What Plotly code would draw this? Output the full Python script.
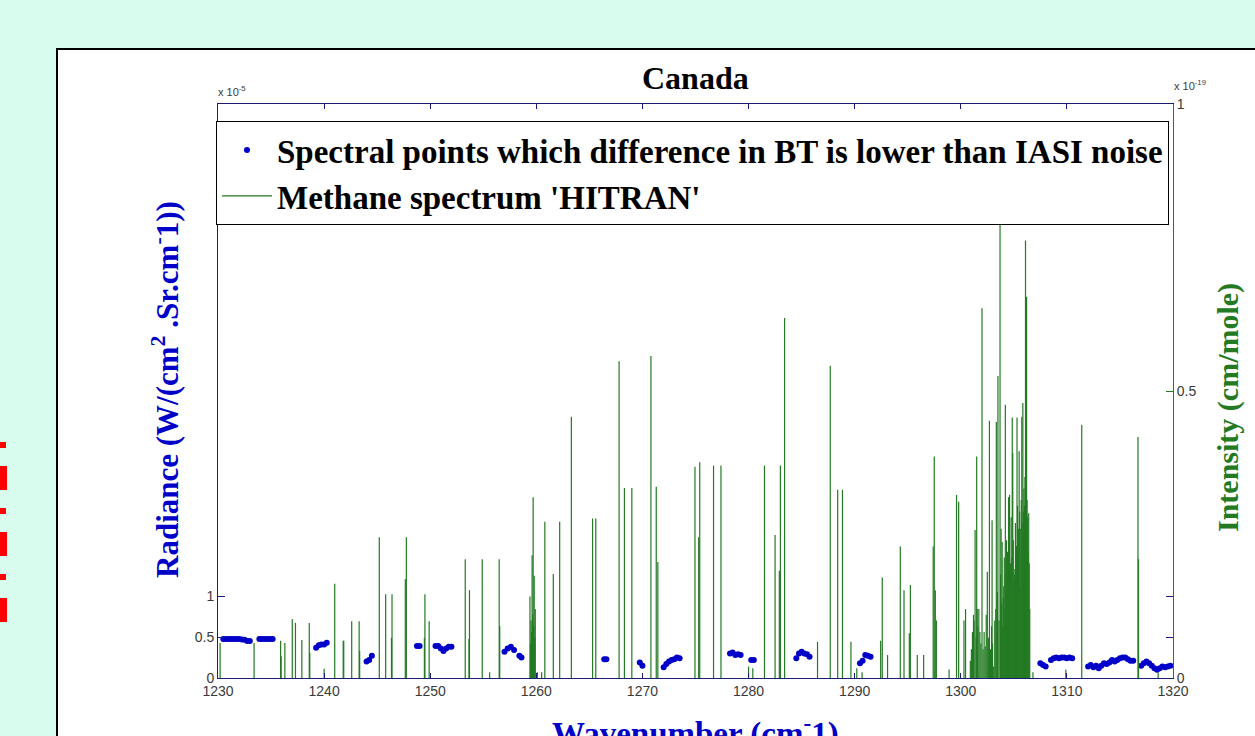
import plotly.graph_objects as go

# radiance points (units of 1e-5), wavenumber in cm-1
iasi_wn = [1230.5, 1230.75, 1231.0, 1231.25, 1231.5, 1231.75, 1232.0, 1232.25, 1232.5, 1232.75, 1233.0,
           1233.9, 1234.15, 1234.4, 1234.65, 1234.9, 1235.15,
           1239.25, 1239.5, 1239.75, 1240.0, 1240.25,
           1244.0, 1244.25, 1244.5,
           1248.75, 1249.0,
           1250.5, 1250.75, 1251.0, 1251.25, 1251.5, 1251.75, 1252.0,
           1257.0, 1257.3, 1257.6, 1257.9, 1258.4, 1258.6,
           1266.4, 1266.6,
           1269.75, 1270.0,
           1272.0, 1272.25, 1272.5, 1272.75, 1273.0, 1273.25, 1273.5,
           1278.25, 1278.5, 1278.75, 1279.0, 1279.25,
           1280.25, 1280.5,
           1284.5, 1284.75, 1285.0, 1285.25, 1285.5, 1285.75,
           1290.5, 1290.75, 1291.0, 1291.25, 1291.5,
           1307.5, 1307.75, 1308.0,
           1308.5, 1308.75, 1309.0, 1309.25, 1309.5, 1309.75, 1310.0, 1310.25, 1310.5,
           1312.0, 1312.25, 1312.5, 1312.75, 1313.0, 1313.25, 1313.5, 1313.75, 1314.0, 1314.25,
           1314.5, 1314.75, 1315.0, 1315.25, 1315.5, 1315.75, 1316.0, 1316.25,
           1317.0, 1317.25, 1317.5, 1317.75, 1318.0, 1318.25, 1318.5, 1318.75, 1319.0, 1319.25,
           1319.5, 1319.75]
iasi_rad = [0.475, 0.475, 0.475, 0.475, 0.475, 0.475, 0.475, 0.47, 0.465, 0.45, 0.45,
            0.475, 0.475, 0.475, 0.475, 0.475, 0.475,
            0.37, 0.40, 0.41, 0.41, 0.43,
            0.20, 0.22, 0.27,
            0.39, 0.39,
            0.39, 0.39, 0.36, 0.33, 0.36, 0.38, 0.38,
            0.32, 0.36, 0.38, 0.34, 0.27, 0.25,
            0.23, 0.23,
            0.19, 0.15,
            0.13, 0.17, 0.20, 0.22, 0.23, 0.25, 0.24,
            0.30, 0.31, 0.28, 0.29, 0.28,
            0.22, 0.22,
            0.24, 0.30, 0.32, 0.30, 0.29, 0.26,
            0.18, 0.21, 0.28, 0.27, 0.26,
            0.18, 0.16, 0.14,
            0.22, 0.24, 0.25, 0.24, 0.25, 0.25, 0.24, 0.25, 0.24,
            0.14, 0.16, 0.13, 0.15, 0.12, 0.15, 0.18, 0.17, 0.19, 0.22,
            0.20, 0.22, 0.24, 0.25, 0.25, 0.23, 0.21, 0.21,
            0.15, 0.18, 0.20, 0.18, 0.15, 0.12, 0.10, 0.12, 0.14, 0.13,
            0.14, 0.15]

# HITRAN methane line intensities (units of 1e-19 cm/mole)
ch4_wn = [1230.2, 1233.4, 1235.9, 1235.95, 1236.3, 1237.0, 1237.3, 1237.9, 1238.6, 1238.65,
          1240.0, 1241.0, 1241.8, 1241.85, 1242.6, 1243.3, 1243.35, 1245.2, 1245.8, 1246.35,
          1246.4, 1247.65, 1247.75, 1249.45, 1249.5, 1249.9, 1253.3, 1253.65, 1253.7, 1254.9,
          1255.6, 1256.5, 1256.55, 1259.4, 1259.5, 1259.6, 1259.7, 1259.8, 1259.9, 1260.1,
          1260.5, 1260.8, 1261.6, 1262.2, 1263.3, 1265.3, 1265.6, 1267.8, 1268.3, 1269.0,
          1270.8, 1271.3, 1271.45, 1274.95, 1275.3, 1275.4, 1276.7, 1277.4, 1280.0, 1280.4,
          1281.5, 1282.5, 1282.9, 1283.0, 1283.4, 1286.5, 1287.7, 1288.4, 1288.85, 1289.65,
          1290.2, 1290.7, 1292.45, 1292.6, 1293.1, 1294.3, 1294.65, 1295.15, 1295.25, 1295.9,
          1296.5, 1297.4, 1297.5, 1297.6, 1297.7, 1298.9, 1299.6, 1299.8, 1300.3, 1300.45,
          1301.2, 1301.35, 1301.5, 1301.6, 1301.7, 1301.8, 1302.0, 1302.1, 1302.3, 1302.5,
          1302.7, 1302.95, 1303.1, 1303.2, 1303.35, 1303.5, 1303.7, 1303.8, 1303.9, 1304.0,
          1304.2, 1304.3, 1304.5, 1304.6, 1304.7, 1304.85, 1304.9, 1305.0, 1305.1, 1305.2,
          1305.3, 1305.4, 1305.5, 1305.6, 1305.65, 1305.75, 1305.85, 1305.9, 1305.95, 1306.0,
          1306.05, 1306.1, 1306.15, 1306.2, 1306.25, 1306.3, 1306.35, 1306.4, 1306.8, 1309.9,
          1311.4, 1316.7, 1316.75, 1318.6,
          # weaker lines filling the band centre
          1259.45, 1259.55, 1259.65, 1259.75, 1259.85, 1300.9, 1301.0, 1301.1, 1301.25, 1301.45,
          1301.55, 1301.9, 1302.2, 1302.4, 1302.6, 1302.8, 1302.9, 1303.0, 1303.3, 1303.45,
          1303.6, 1303.75, 1303.85, 1303.95, 1304.05, 1304.1, 1304.15, 1304.25, 1304.35, 1304.4,
          1304.45, 1304.55, 1304.65, 1304.75, 1304.8, 1304.95, 1305.05, 1305.15, 1305.25, 1305.35,
          1305.45, 1305.55, 1305.7, 1305.8, 1306.45, 1306.5]
ch4_int = [0.061, 0.061, 0.065, 0.038, 0.061, 0.103, 0.096, 0.066, 0.096, 0.044,
           0.016, 0.164, 0.065, 0.065, 0.099, 0.099, 0.047, 0.245, 0.146, 0.07,
           0.146, 0.172, 0.245, 0.07, 0.146, 0.099, 0.207, 0.068, 0.153, 0.207,
           0.01, 0.207, 0.09, 0.142, 0.10, 0.214, 0.315, 0.178, 0.12, 0.01,
           0.01, 0.272, 0.181, 0.272, 0.455, 0.278, 0.278, 0.552, 0.331, 0.331,
           0.561, 0.333, 0.202, 0.368, 0.245, 0.376, 0.37, 0.37, 0.02, 0.017,
           0.37, 0.249, 0.187, 0.37, 0.627, 0.063, 0.544, 0.328, 0.328, 0.063,
           0.017, 0.01, 0.065, 0.175, 0.04, 0.229, 0.153, 0.078, 0.162, 0.04,
           0.04, 0.229, 0.386, 0.153, 0.10, 0.015, 0.319, 0.307, 0.10, 0.12,
           0.11, 0.258, 0.386, 0.09, 0.12, 0.08, 0.644, 0.05, 0.055, 0.185,
           0.448, 0.275, 0.02, 0.10, 0.446, 0.526, 0.791, 0.26, 0.237, 0.14,
           0.476, 0.24, 0.315, 0.319, 0.20, 0.454, 0.392, 0.17, 0.19, 0.22,
           0.454, 0.25, 0.395, 0.16, 0.26, 0.455, 0.479, 0.29, 0.33, 0.30,
           0.35, 0.762, 0.40, 0.664, 0.31, 0.28, 0.22, 0.287, 0.01, 0.015,
           0.441, 0.42, 0.207, 0.01,
           0.06, 0.08, 0.11, 0.09, 0.07, 0.03, 0.05, 0.08, 0.10, 0.07,
           0.12, 0.06, 0.08, 0.11, 0.07, 0.05, 0.09, 0.06, 0.12, 0.15,
           0.10, 0.18, 0.13, 0.09, 0.16, 0.21, 0.12, 0.18, 0.14, 0.22,
           0.17, 0.25, 0.19, 0.28, 0.21, 0.24, 0.18, 0.27, 0.23, 0.30,
           0.26, 0.29, 0.31, 0.27, 0.20, 0.12]

x_ticks = [1230, 1240, 1250, 1260, 1270, 1280, 1290, 1300, 1310, 1320]
left_ticks = [0, 0.5, 1]
right_ticks = [0, 0.5, 1]

# plot area in pixels
L, R, T, B = 218, 1173, 104, 678
W, H = 1255, 736


def px(x):
    return (x - L) / (R - L)


def py(y):
    return (B - y) / (B - T)


# stick spectrum
stick_x, stick_y = [], []
for w, h in zip(ch4_wn, ch4_int):
    stick_x += [w, w, None]
    stick_y += [0, h, None]

blue = '#0000c8'
green = '#237a23'
serif = 'Liberation Serif'

fig = go.Figure()
fig.add_trace(go.Scatter(x=iasi_wn, y=iasi_rad, mode='markers', yaxis='y',
                         name='<b>Spectral points which difference in BT is lower than IASI noise</b>',
                         legendgroup='a',
                         marker=dict(color=blue, size=6, symbol='circle')))
fig.add_trace(go.Scatter(x=stick_x, y=stick_y, mode='lines', yaxis='y2',
                         name="<b>Methane spectrum 'HITRAN'</b>", legendgroup='b',
                         line=dict(color=green, width=1.2)))

shapes = [dict(type='rect', xref='paper', yref='paper', layer='below',
               x0=px(57), x1=px(1262), y0=py(742), y1=py(49),
               fillcolor='white', line=dict(color='black', width=2))]
# red dashes on the left edge
for y0, y1, w in [(442, 448, 6), (466, 490, 7), (508, 514, 6), (532, 556, 7), (574, 580, 6), (598, 622, 7)]:
    shapes.append(dict(type='rect', xref='paper', yref='paper',
                       x0=px(0), x1=px(w), y0=py(y1), y1=py(y0),
                       fillcolor='#ff0000', line=dict(width=0)))

tickfont = dict(family='Liberation Sans', size=14, color='#3a3a3a')
small = dict(family='Liberation Sans', size=11, color='#3a3a3a')

fig.update_layout(
    width=W, height=H,
    margin=dict(l=L, r=W - R, t=T, b=H - B),
    paper_bgcolor='#d8fcee', plot_bgcolor='white',
    showlegend=True,
    legend=dict(x=px(216), y=py(121), xanchor='left', yanchor='top',
                bgcolor='white', bordercolor='black', borderwidth=1,
                font=dict(family=serif, size=33, color='black'),
                itemwidth=50, tracegroupgap=0, traceorder='grouped'),
    xaxis=dict(range=[1230, 1320], tickvals=x_ticks, ticks='inside', ticklen=5,
               showline=True, linecolor='#1a1a70', linewidth=1, mirror='ticks',
               showgrid=False, zeroline=False, tickfont=tickfont, tickcolor='#1a1a70'),
    yaxis=dict(range=[0, 7], tickvals=left_ticks, ticktext=['0', '0.5', '1'],
               ticks='inside', ticklen=7, showline=True, linecolor='#1a1a8c', linewidth=1,
               mirror='ticks', showgrid=False, zeroline=False, tickfont=tickfont,
               tickcolor='#1a1a8c'),
    yaxis2=dict(range=[0, 1], tickvals=right_ticks, ticktext=['0', '0.5', '1'],
                overlaying='y', side='right', ticks='inside', ticklen=7,
                showline=True, linecolor=green, linewidth=1, showgrid=False,
                zeroline=False, tickfont=tickfont, tickcolor=green),
    shapes=shapes,
    annotations=[
        dict(text='<b>Canada</b>', xref='paper', yref='paper', x=0.5, y=py(78),
             xanchor='center', yanchor='middle', showarrow=False,
             font=dict(family=serif, size=32, color='black')),
        dict(text='x 10<sup>-5</sup>', xref='paper', yref='paper', x=px(216), y=py(91),
             xanchor='left', yanchor='middle', showarrow=False, font=small),
        dict(text='x 10<sup>-19</sup>', xref='paper', yref='paper', x=px(1172), y=py(85),
             xanchor='left', yanchor='middle', showarrow=False, font=small),
        dict(text='<b>Radiance (W/(cm<sup>2</sup> .Sr.cm<sup>-</sup>1))</b>', xref='paper', yref='paper',
             x=px(165), y=py(390), xanchor='center', yanchor='middle', textangle=-90,
             showarrow=False, font=dict(family=serif, size=31, color=blue)),
        dict(text='<b>Intensity (cm/mole)</b>', xref='paper', yref='paper',
             x=px(1228), y=py(408), xanchor='center', yanchor='middle', textangle=-90,
             showarrow=False, font=dict(family=serif, size=30, color=green)),
        dict(text='<b>Wavenumber (cm<sup>-</sup>1)</b>', xref='paper', yref='paper',
             x=0.5, y=py(732), xanchor='center', yanchor='middle', showarrow=False,
             font=dict(family=serif, size=33, color=blue)),
    ],
)

fig.write_html("out.html", config={'displayModeBar': False},
               post_script="document.body.style.margin='0px';")
